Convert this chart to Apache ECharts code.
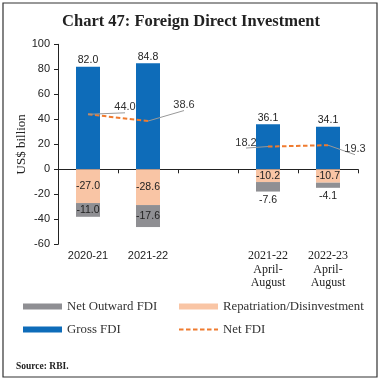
<!DOCTYPE html>
<html><head><meta charset="utf-8">
<script src="https://cdn.jsdelivr.net/npm/echarts@6/dist/echarts.min.js"></script>
<style>html,body{margin:0;padding:0;background:#fff}#c{width:382px;height:382px}</style>
</head><body><div id="c"></div>
<script>
var categories = ['2020-21', '2021-22', '', '2021-22\nApril-\nAugust', '2022-23\nApril-\nAugust'];
var grossFDI = [82.0, 84.8, null, 36.1, 34.1];
var repatriation = [-27.0, -28.6, null, -10.2, -10.7];
var netOutward = [-11.0, -17.6, null, -7.6, -4.1];
var netFDI = [44.0, 38.6, null, 18.2, 19.3];

var serif = '"Liberation Serif", serif';
var sans = '"Liberation Sans", sans-serif';
var netLabelShift = [[37, -7], [36, -16], [0, 0], [-22, -4], [27, 4]];
var outwardPos = ['inside', 'inside', 'inside', 'bottom', 'bottom'];
var catStyle = ['s', 's', 's', 'r', 'r'];

var chart = echarts.init(document.getElementById('c'));
chart.setOption({
  animation: false,
  title: [{
    text: 'Chart 47: Foreign Direct Investment',
    left: 'center', top: 8,
    textStyle: {fontFamily: serif, fontWeight: 'bold', fontSize: 16.5, color: '#222'}
  }, {
    text: '{b|Source:} RBI.',
    left: 11, top: 357,
    textStyle: {rich: {b: {fontFamily: serif, fontWeight: 'bold', fontSize: 9.5, color: '#222'}}, fontFamily: serif, fontSize: 9.5, color: '#222'}
  }],
  graphic: [{type: 'rect', shape: {x: 3, y: 3, width: 374, height: 374}, style: {fill: 'none', stroke: '#333', lineWidth: 1.2}}],
  legend: [{
    left: 18, top: 295, orient: 'vertical', itemWidth: 39, itemHeight: 6, itemGap: 10, icon: 'rect',
    data: ['Net Outward FDI', 'Gross FDI'],
    textStyle: {fontFamily: serif, fontSize: 12.8, color: '#333'}
  }, {
    left: 173, top: 295, orient: 'vertical', itemWidth: 39, itemHeight: 6, itemGap: 10,
    data: [{name: 'Repatriation/Disinvestment', icon: 'rect'}, {name: 'Net FDI', itemStyle: {opacity: 0}}],
    textStyle: {fontFamily: serif, fontSize: 12.8, color: '#333'}
  }],
  grid: {left: 58, right: 24, top: 44.3, bottom: 137.7},
  xAxis: [{
    type: 'category', data: categories,
    axisLine: {onZero: true, lineStyle: {color: '#222', width: 1}},
    axisTick: {show: true, inside: false, length: 4, lineStyle: {color: '#222'}},
    axisLabel: {show: false}
  }, {
    type: 'category', data: categories, position: 'bottom',
    axisLine: {show: false, onZero: false}, axisTick: {show: false},
    axisLabel: {
      show: true, margin: 5, interval: 0,
      formatter: function (v, i) { return v.split('\n').map(function (l) { return '{' + catStyle[i] + '|' + l + '}'; }).join('\n'); },
      rich: {
        s: {fontFamily: sans, fontSize: 11, lineHeight: 13.5, color: '#222'},
        r: {fontFamily: serif, fontSize: 12, lineHeight: 13.5, color: '#222'}
      }
    }
  }],
  yAxis: {
    type: 'value', min: -60, max: 100, interval: 20,
    name: 'US$ billion', nameLocation: 'middle', nameGap: 30, nameMoveOverlap: false,
    nameTextStyle: {fontFamily: serif, fontSize: 13, color: '#222'},
    axisLine: {show: true, lineStyle: {color: '#222'}},
    axisTick: {show: true, length: 4, lineStyle: {color: '#222'}},
    axisLabel: {fontFamily: sans, fontSize: 11, color: '#222', margin: 8},
    splitLine: {show: false}
  },
  series: [{
    name: 'Gross FDI', type: 'bar', stack: 'a', barWidth: 24,
    data: grossFDI,
    itemStyle: {color: '#0E6CB9'},
    label: {show: true, position: 'top', distance: 1, fontFamily: sans, fontSize: 10.5, color: '#222', formatter: function (p) { return p.value.toFixed(1); }}
  }, {
    name: 'Repatriation/Disinvestment', type: 'bar', stack: 'a', barWidth: 24,
    data: repatriation,
    itemStyle: {color: '#F9C5A5'},
    label: {show: true, position: 'inside', fontFamily: sans, fontSize: 10.5, color: '#222', formatter: function (p) { return p.value.toFixed(1); }}
  }, {
    name: 'Net Outward FDI', type: 'bar', stack: 'a', barWidth: 24,
    data: netOutward.map(function (v, i) { return {value: v, label: {position: outwardPos[i]}}; }),
    itemStyle: {color: '#8F8F93'},
    label: {show: true, distance: 3, fontFamily: sans, fontSize: 10.5, color: '#222', formatter: function (p) { return p.value == null ? '' : p.value.toFixed(1); }}
  }, {
    name: 'Net FDI', type: 'line', symbol: 'circle', symbolSize: 0, connectNulls: false,
    data: netFDI.map(function (v, i) { return {value: v, label: {offset: netLabelShift[i]}}; }),
    itemStyle: {color: '#EF7B2F'},
    lineStyle: {color: '#EF7B2F', width: 2, type: [4.5, 2.5]},
    label: {show: true, position: 'inside', fontFamily: sans, fontSize: 11, color: '#333', formatter: function (p) { return p.value == null ? '' : p.value.toFixed(1); }},
    labelLine: {show: true, lineStyle: {color: '#999', width: 1}},
    z: 5
  }]
});
</script></body></html>
